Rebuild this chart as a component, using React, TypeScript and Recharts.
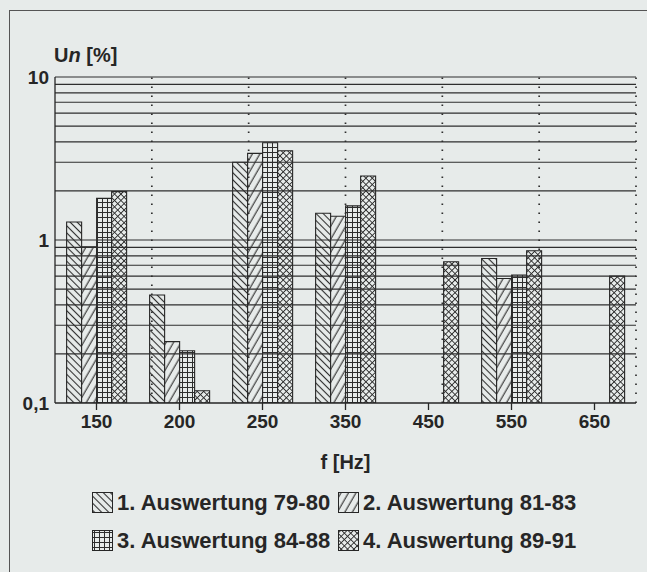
import React from "react";
import { BarChart, Bar, XAxis, YAxis, Legend, ReferenceLine } from "recharts";

// frequencies (Hz) and Un [%] per evaluation period
const categories = ["150", "200", "250", "350", "450", "550", "650"];
const auswertung1 = [1.29, 0.46, 3.0, 1.46, null, 0.77, null];
const auswertung2 = [0.91, 0.238, 3.4, 1.4, null, 0.58, null];
const auswertung3 = [1.8, 0.209, 3.95, 1.62, null, 0.61, null];
const auswertung4 = [1.98, 0.119, 3.53, 2.47, 0.736, 0.86, 0.6];

const seriesNames = [
  "1. Auswertung 79-80",
  "2. Auswertung 81-83",
  "3. Auswertung 84-88",
  "4. Auswertung 89-91",
];
const seriesKeys = ["a1", "a2", "a3", "a4"];

const yTicks = [0.1, 1, 10];
const gridValues = [0.2, 0.3, 0.4, 0.5, 0.6, 0.7, 0.8, 0.9, 1, 2, 3, 4, 5, 6, 7, 8, 9, 10];
const categoryBounds = [1, 2, 3, 4, 5, 6];

const data = categories.map((f, i) => ({
  f,
  a1: auswertung1[i],
  a2: auswertung2[i],
  a3: auswertung3[i],
  a4: auswertung4[i],
}));

const PAPER = "#e7ebea";
const INK = "#262626";
const HATCH = "#2e2e2e";
const FONT = "'Liberation Sans', Arial, sans-serif";

function Patterns({ suffix }: { suffix: string }) {
  return (
    <defs>
      <pattern id={`p1${suffix}`} width={5} height={5} patternUnits="userSpaceOnUse" patternTransform="rotate(-45)">
        <rect width={5} height={5} fill={PAPER} />
        <line x1={2.5} y1={0} x2={2.5} y2={5} stroke={HATCH} strokeWidth={1.1} />
      </pattern>
      <pattern id={`p2${suffix}`} width={6.5} height={6.5} patternUnits="userSpaceOnUse" patternTransform="rotate(30)">
        <rect width={6.5} height={6.5} fill={PAPER} />
        <line x1={3} y1={0} x2={3} y2={6.5} stroke={HATCH} strokeWidth={1.1} />
      </pattern>
      <pattern id={`p3${suffix}`} width={5} height={5} patternUnits="userSpaceOnUse">
        <rect width={5} height={5} fill={PAPER} />
        <line x1={2.5} y1={0} x2={2.5} y2={5} stroke={HATCH} strokeWidth={1} />
        <line x1={0} y1={2.5} x2={5} y2={2.5} stroke={HATCH} strokeWidth={1} />
      </pattern>
      <pattern id={`p4${suffix}`} width={4.5} height={4.5} patternUnits="userSpaceOnUse" patternTransform="rotate(45)">
        <rect width={4.5} height={4.5} fill={PAPER} />
        <line x1={2.25} y1={0} x2={2.25} y2={4.5} stroke={HATCH} strokeWidth={0.9} />
        <line x1={0} y1={2.25} x2={4.5} y2={2.25} stroke={HATCH} strokeWidth={0.9} />
      </pattern>
    </defs>
  );
}

function UnLabel(props: any) {
  const vb = props.viewBox || {};
  return (
    <text x={vb.x + vb.width - 1} y={vb.y - 15} fill={INK} fontFamily={FONT} fontWeight="bold" fontSize={20}>
      U<tspan fontStyle="italic">n</tspan> [%]
    </text>
  );
}

function renderLegend(props: any) {
  const payload = props.payload || [];
  return (
    <div
      style={{
        display: "grid",
        gridTemplateColumns: "246px auto",
        rowGap: 17,
        paddingLeft: 92,
        fontFamily: FONT,
        fontWeight: "bold",
        fontSize: 22,
        color: INK,
      }}
    >
      {payload.map((entry: any, i: number) => (
        <div key={i} style={{ display: "flex", alignItems: "center", height: 21 }}>
          <svg width={21} height={21} style={{ marginRight: 4 }}>
            <Patterns suffix={`leg${i}`} />
            <rect x={0.5} y={0.5} width={20} height={20} fill={`url(#p${i + 1}leg${i})`} stroke={INK} strokeWidth={1} />
          </svg>
          <span style={{ whiteSpace: "nowrap" }}>{entry.value}</span>
        </div>
      ))}
    </div>
  );
}

export default function App() {
  return (
    <div
      style={{
        position: "absolute",
        left: 0,
        top: 0,
        width: 647,
        height: 572,
        background: PAPER,
        overflow: "hidden",
      }}
    >
      <div
        style={{
          position: "absolute",
          left: 9,
          top: 10,
          width: 700,
          height: 700,
          borderLeft: "1.5px solid #555",
          borderTop: "1.5px solid #555",
        }}
      />
      <BarChart
        width={647}
        height={572}
        data={data}
        margin={{ top: 77, right: 11, left: 10, bottom: 94 }}
        barGap={0}
        barCategoryGap="14%"
        style={{ position: "absolute", left: 0, top: 0 }}
      >
        <Patterns suffix="" />
        <XAxis
          dataKey="f"
          height={75}
          tickSize={7}
          tickMargin={5}
          axisLine={{ stroke: INK, strokeWidth: 1.3 }}
          tickLine={{ stroke: INK, strokeWidth: 1.3 }}
          tick={{ fill: INK, fontSize: 19, fontWeight: "bold", fontFamily: FONT }}
          label={{
            value: "f [Hz]",
            position: "insideBottom",
            offset: 9,
            fill: INK,
            fontSize: 20,
            fontWeight: "bold",
            fontFamily: FONT,
          }}
        />
        <XAxis xAxisId="grid" type="number" domain={[0, 7]} hide />
        <YAxis
          scale="log"
          domain={[0.1, 10]}
          ticks={yTicks}
          allowDataOverflow
          width={45}
          tickSize={0}
          tickMargin={6}
          tickLine={false}
          axisLine={{ stroke: INK, strokeWidth: 1.3 }}
          tick={{ fill: INK, fontSize: 19, fontWeight: "bold", fontFamily: FONT }}
          tickFormatter={(v: number) => String(v).replace(".", ",")}
          label={<UnLabel />}
        />
        {gridValues.map((v) => (
          <ReferenceLine key={`h${v}`} y={v} stroke={HATCH} strokeWidth={1.2} />
        ))}
        {categoryBounds.map((v) => (
          <ReferenceLine
            key={`v${v}`}
            xAxisId="grid"
            x={v}
            stroke={HATCH}
            strokeWidth={1.7}
            strokeDasharray="1.5 7.5"
          />
        ))}
        <ReferenceLine xAxisId="grid" x={7} stroke={INK} strokeWidth={1.3} />
        {seriesKeys.map((key, i) => (
          <Bar
            key={key}
            dataKey={key}
            name={seriesNames[i]}
            fill={`url(#p${i + 1})`}
            stroke={INK}
            strokeWidth={1.1}
            isAnimationActive={false}
          />
        ))}
        <Legend
          layout="horizontal"
          verticalAlign="middle"
          align="center"
          wrapperStyle={{ top: 492, left: 0, width: 647 }}
          content={renderLegend}
        />
      </BarChart>
    </div>
  );
}
